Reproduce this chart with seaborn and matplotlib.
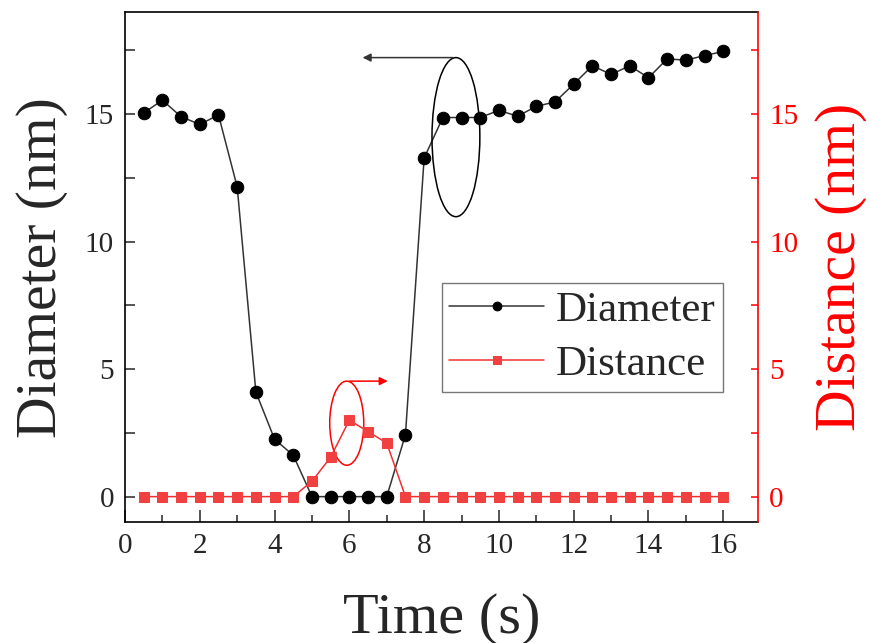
import numpy as np
import pandas as pd
import matplotlib.pyplot as plt
from matplotlib.patches import Ellipse
from matplotlib.ticker import MultipleLocator
import seaborn as sns

time = [0.5, 1, 1.5, 2, 2.5, 3, 3.5, 4, 4.5, 5, 5.5, 6, 6.5, 7, 7.5, 8,
        8.5, 9, 9.5, 10, 10.5, 11, 11.5, 12, 12.5, 13, 13.5, 14, 14.5, 15, 15.5, 16]
diameter = [15.05, 15.55, 14.9, 14.6, 14.97, 12.15, 4.1, 2.25, 1.62, 0, 0, 0, 0, 0, 2.43, 13.28,
            14.87, 14.87, 14.87, 15.15, 14.92, 15.31, 15.48, 16.18, 16.9, 16.56, 16.9, 16.43,
            17.17, 17.12, 17.3, 17.46]
distance = [0, 0, 0, 0, 0, 0, 0, 0, 0, 0.6, 1.55, 3.0, 2.55, 2.1, 0, 0,
            0, 0, 0, 0, 0, 0, 0, 0, 0, 0, 0, 0, 0, 0, 0, 0]

df = pd.DataFrame({"Time": time, "Diameter": diameter, "Distance": distance})

sns.set_style("ticks")
plt.rcParams['font.family'] = ['Liberation Serif', 'DejaVu Serif']

fig = plt.figure(figsize=(8.7, 6.43), dpi=100)
ax = fig.add_axes([0.1437, 0.188, 0.7276, 0.793])
ax2 = ax.twinx()

sns.lineplot(data=df, x="Time", y="Diameter", ax=ax, color="#333333", lw=1.1,
             marker="o", markersize=9, markerfacecolor="black", markeredgecolor="black",
             label="Diameter", legend=False)
sns.lineplot(data=df, x="Time", y="Distance", ax=ax2, color="#f03030", lw=1.1,
             marker="s", markersize=7.5, markerfacecolor="#f04040", markeredgecolor="#f04040",
             label="Distance", legend=False)

ax.set_xlim(0, 16.93)
ax.set_ylim(-1, 19)
ax2.set_ylim(-1, 19)

ax.xaxis.set_major_locator(MultipleLocator(2))
ax.xaxis.set_minor_locator(MultipleLocator(1))
ax.yaxis.set_major_locator(MultipleLocator(5))
ax.yaxis.set_minor_locator(MultipleLocator(2.5))
ax2.yaxis.set_major_locator(MultipleLocator(5))
ax2.yaxis.set_minor_locator(MultipleLocator(2.5))

ax.tick_params(axis='x', which='major', direction='in', length=9, width=1.1, labelsize=21, pad=8)
ax.tick_params(axis='x', which='minor', direction='in', length=5, width=1.1)
ax.tick_params(axis='y', which='both', direction='in', length=7, width=1.1, labelsize=21, pad=8)
ax2.tick_params(axis='y', which='both', direction='in', length=5, width=1.1, labelsize=21,
                pad=8, colors='red')

for s in ax.spines.values():
    s.set_linewidth(1.2)
    s.set_color('black')
for s in ax2.spines.values():
    s.set_visible(False)
ax2.spines['right'].set_visible(True)
ax2.spines['right'].set_color('red')
ax2.spines['right'].set_linewidth(1.2)
ax.spines['right'].set_visible(False)

ax.set_xlabel("Time (s)", fontsize=42, labelpad=24)
ax.set_ylabel("Diameter (nm)", fontsize=41.5, labelpad=12)
ax2.set_ylabel("Distance (nm)", fontsize=41.5, color='red', labelpad=12)

# black ellipse + arrow pointing to left axis
ax2.add_patch(Ellipse((8.85, 14.1), 1.28, 6.24, fill=False, ec='black', lw=1.1))
ax2.annotate("", xy=(6.28, 17.22), xytext=(8.85, 17.22),
             arrowprops=dict(arrowstyle='-|>', color='#333333', lw=1.1, mutation_scale=12))
# red ellipse + arrow pointing to right axis
ax2.add_patch(Ellipse((5.93, 2.88), 0.91, 3.3, fill=False, ec='red', lw=1.1))
ax2.annotate("", xy=(7.1, 4.53), xytext=(5.93, 4.53),
             arrowprops=dict(arrowstyle='-|>', color='red', lw=1.1, mutation_scale=12))

h1, l1 = ax.get_legend_handles_labels()
h2, l2 = ax2.get_legend_handles_labels()
leg = ax2.legend(h1 + h2, l1 + l2, loc='upper left', bbox_to_anchor=(0.5, 0.469),
                 fontsize=31, frameon=True, fancybox=False, edgecolor='#555555',
                 handlelength=2.2, handletextpad=0.27, borderpad=0.18, labelspacing=0.35,
                 markerscale=0.7, borderaxespad=0)
leg.get_frame().set_linewidth(1.0)

fig.savefig("out.png", dpi=100)
